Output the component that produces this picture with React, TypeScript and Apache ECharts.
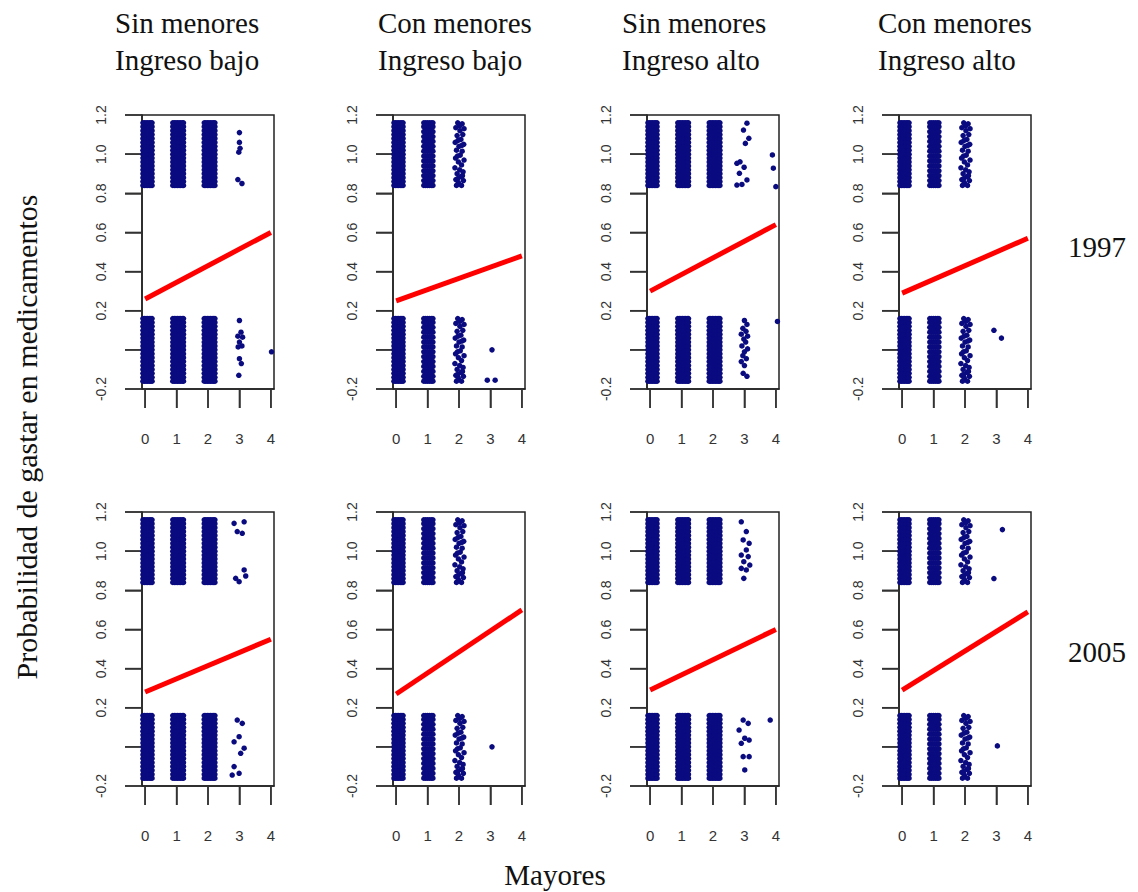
import React, { useEffect, useRef } from 'react';
import * as echarts from 'echarts';

// ---------- text ----------
const columnTitles = [
  ['Sin menores', 'Ingreso bajo'],
  ['Con menores', 'Ingreso bajo'],
  ['Sin menores', 'Ingreso alto'],
  ['Con menores', 'Ingreso alto'],
];
const rowYears = ['1997', '2005'];
const yTitle = 'Probabilidad de gastar en medicamentos';
const xTitle = 'Mayores';

// ---------- ticks ----------
const xTickValues = [0, 1, 2, 3, 4];
const yTickValues = [-0.2, 0, 0.2, 0.4, 0.6, 0.8, 1.0, 1.2];
const yLabelValues = [-0.2, 0.2, 0.4, 0.6, 0.8, 1.0, 1.2];

// ---------- fitted probability lines (value at Mayores = 0 and Mayores = 4) ----------
const fitStart1997 = [0.26, 0.25, 0.3, 0.29];
const fitEnd1997 = [0.6, 0.48, 0.64, 0.57];
const fitStart2005 = [0.28, 0.27, 0.29, 0.29];
const fitEnd2005 = [0.55, 0.7, 0.6, 0.69];

// ---------- jittered observation clusters at Mayores = 0,1,2 ----------
// F = very many observations, M = many, L = fewer ; for outcome 0 and outcome 1
const densityZero1997 = ['FFF', 'FML', 'FFF', 'FML'];
const densityOne1997 = ['FFF', 'FML', 'FFF', 'FML'];
const densityZero2005 = ['FFF', 'FML', 'FFF', 'FML'];
const densityOne2005 = ['FFF', 'FML', 'FFF', 'FML'];

// jitter offsets
const fullDX = [-0.12, -0.07, -0.02, 0.03, 0.08, 0.13, 0.18, 0.22];
const fullDY = [-0.16, -0.14, -0.12, -0.1, -0.08, -0.06, -0.04, -0.02, 0, 0.02, 0.04, 0.06, 0.08, 0.1, 0.12, 0.14, 0.16];
const mediumDX = [-0.12, -0.06, 0.0, 0.06, 0.12, 0.17];
const mediumDY = [-0.16, -0.135, -0.11, -0.085, -0.06, -0.035, -0.01, 0.015, 0.04, 0.065, 0.09, 0.115, 0.14, 0.16];
const lightJitter = [
  [-0.04, 0.16], [0.1, 0.155], [0.16, 0.13], [-0.1, 0.135], [0.03, 0.12], [0.12, 0.1],
  [-0.06, 0.095], [0.06, 0.075], [-0.12, 0.06], [0.15, 0.05], [0.0, 0.04], [-0.08, 0.02],
  [0.1, 0.015], [0.04, -0.005], [-0.11, -0.02], [0.16, -0.03], [-0.02, -0.04], [0.08, -0.055],
  [-0.13, -0.07], [0.02, -0.08], [0.13, -0.09], [-0.06, -0.1], [0.06, -0.115], [-0.1, -0.13],
  [0.14, -0.135], [-0.02, -0.145], [0.08, -0.16], [-0.08, -0.16], [0.02, 0.145], [-0.03, 0.07],
  [0.09, 0.045], [-0.05, -0.01], [0.11, -0.11], [-0.04, -0.125],
];

// ---------- individual observations (mostly Mayores = 3 and 4) ----------
const sparse1997 = [
  [
    [3.0, 1.11], [3.0, 1.06], [3.02, 1.03], [2.98, 1.01], [2.95, 0.87], [3.08, 0.85],
    [3.0, 0.15], [3.05, 0.09], [2.95, 0.07], [3.1, 0.065], [3.0, 0.04], [3.08, 0.02],
    [2.96, 0.015], [3.0, -0.045], [3.06, -0.07], [2.98, -0.13], [4.02, -0.01],
  ],
  [[3.05, 0.0], [2.9, -0.155], [3.15, -0.155]],
  [
    [3.08, 1.158], [2.97, 1.123], [3.14, 1.081], [3.03, 1.055], [2.86, 0.961], [2.76, 0.953],
    [2.99, 0.933], [2.84, 0.902], [3.08, 0.868], [2.76, 0.842], [2.92, 0.845],
    [3.89, 0.996], [3.92, 0.928], [4.0, 0.834],
    [3.0, 0.15], [3.08, 0.13], [2.95, 0.11], [3.05, 0.095], [2.9, 0.08], [3.1, 0.07],
    [2.98, 0.055], [3.04, 0.04], [2.92, 0.02], [3.1, 0.005], [3.0, -0.01], [2.95, -0.03],
    [3.06, -0.045], [2.9, -0.06], [3.0, -0.08], [2.96, -0.12], [3.08, -0.135],
    [4.05, 0.145],
  ],
  [[2.92, 0.1], [3.16, 0.06]],
];
const sparse2005 = [
  [
    [2.83, 1.142], [3.15, 1.15], [2.93, 1.1], [3.09, 1.091], [3.15, 0.904], [2.88, 0.861],
    [2.99, 0.844], [3.2, 0.873],
    [2.93, 0.137], [3.09, 0.12], [2.99, 0.052], [2.83, 0.026], [3.15, -0.007], [3.04, -0.033],
    [2.83, -0.101], [2.99, -0.135], [2.77, -0.144],
  ],
  [[3.05, 0.0]],
  [
    [2.9, 1.15], [3.06, 1.1], [2.96, 1.057], [3.15, 1.04], [3.06, 1.006], [2.9, 0.98],
    [3.12, 0.972], [2.98, 0.946], [3.17, 0.929], [2.9, 0.912], [2.98, 0.861], [3.06, 0.904],
    [2.96, 0.137], [3.12, 0.12], [2.83, 0.086], [3.01, 0.044], [3.15, 0.035], [2.9, 0.018],
    [2.96, -0.05], [3.15, -0.05], [3.01, -0.118],
    [3.82, 0.137],
  ],
  [[3.19, 1.11], [2.92, 0.86], [3.03, 0.005]],
];

function clusterPoints(code: string, center: number, base: number, out: number[][]) {
  if (code === 'F') {
    for (const dx of fullDX) for (const dy of fullDY) out.push([center + dx, base + dy]);
  } else if (code === 'M') {
    for (const dx of mediumDX) for (const dy of mediumDY) out.push([center + dx, base + dy]);
  } else if (code === 'L') {
    for (const [dx, dy] of lightJitter) out.push([center + dx, base + dy]);
  }
}

function panelPoints(zero: string, one: string, sparse: number[][]) {
  const pts: number[][] = [];
  for (let k = 0; k < 3; k++) {
    clusterPoints(zero[k], k, 0, pts);
    clusterPoints(one[k], k, 1, pts);
  }
  for (const p of sparse) pts.push(p);
  return pts;
}

const gridLefts = [142, 393, 647, 899];
const gridTops = [115, 512];
const titleLefts = [115, 378, 622, 878];

export default function App() {
  const ref = useRef<HTMLDivElement>(null);
  useEffect(() => {
    if (!ref.current) return;
    const chart = echarts.init(ref.current, undefined, { renderer: 'svg' });
    const grids: any[] = [];
    const xAxes: any[] = [];
    const yAxes: any[] = [];
    const series: any[] = [];
    const axisFont = '"Liberation Sans", Arial, sans-serif';
    const lineCol = '#222';
    for (let r = 0; r < 2; r++) {
      for (let c = 0; c < 4; c++) {
        const i = r * 4 + c;
        grids.push({
          left: gridLefts[c],
          top: gridTops[r],
          width: 132,
          height: 274,
          show: true,
          borderColor: lineCol,
          borderWidth: 1.5,
          containLabel: false,
          outerBoundsMode: 'none',
        });
        xAxes.push({
          type: 'value',
          gridIndex: i,
          position: 'bottom',
          min: -0.1,
          max: 4.1,
          axisLine: { show: true, onZero: false, lineStyle: { color: lineCol, width: 1.5 } },
          splitLine: { show: false },
          axisTick: { show: true, length: 19, lineStyle: { color: '#333', width: 1.5 }, customValues: xTickValues },
          axisLabel: {
            customValues: xTickValues,
            margin: 42,
            fontSize: 15,
            color: '#333',
            fontFamily: axisFont,
          },
        });
        yAxes.push({
          type: 'value',
          gridIndex: i,
          position: 'left',
          min: -0.2,
          max: 1.2,
          interval: 0.2,
          axisLine: { show: true, onZero: false, lineStyle: { color: lineCol, width: 1.5 } },
          splitLine: { show: false },
          axisTick: { show: true, length: 17, lineStyle: { color: '#333', width: 1.5 } },
          axisLabel: {
            customValues: yLabelValues,
            rotate: 90,
            margin: 34,
            fontSize: 14,
            color: '#333',
            fontFamily: axisFont,
            formatter: (v: number) => v.toFixed(1),
          },
        });
        const zero = r === 0 ? densityZero1997[c] : densityZero2005[c];
        const one = r === 0 ? densityOne1997[c] : densityOne2005[c];
        const sparse = r === 0 ? sparse1997[c] : sparse2005[c];
        series.push({
          type: 'scatter',
          xAxisIndex: i,
          yAxisIndex: i,
          data: panelPoints(zero, one, sparse),
          symbol: 'circle',
          symbolSize: 5.5,
          itemStyle: { color: '#0B0B80', opacity: 1 },
          silent: true,
        });
        const s = r === 0 ? fitStart1997[c] : fitStart2005[c];
        const e = r === 0 ? fitEnd1997[c] : fitEnd2005[c];
        series.push({
          type: 'line',
          xAxisIndex: i,
          yAxisIndex: i,
          data: [[0, s], [4, e]],
          symbol: 'none',
          lineStyle: { color: '#FF0000', width: 5 },
          silent: true,
        });
      }
    }
    const serif = '"Liberation Serif", "Times New Roman", serif';
    const graphics: any[] = [];
    columnTitles.forEach((lines, c) => {
      lines.forEach((t, li) => {
        graphics.push({
          type: 'text',
          x: titleLefts[c],
          y: li === 0 ? 23 : 60,
          style: { text: t, font: `29px ${serif}`, fill: '#111', textAlign: 'left', textVerticalAlign: 'middle' },
        });
      });
    });
    rowYears.forEach((yr, r) => {
      graphics.push({
        type: 'text',
        x: 1068,
        y: r === 0 ? 247 : 652,
        style: { text: yr, font: `29px ${serif}`, fill: '#111', textAlign: 'left', textVerticalAlign: 'middle' },
      });
    });
    graphics.push({
      type: 'text',
      x: 26,
      y: 437,
      rotation: Math.PI / 2,
      style: { text: yTitle, font: `30px ${serif}`, fill: '#111', textAlign: 'center', textVerticalAlign: 'middle' },
    });
    graphics.push({
      type: 'text',
      x: 555,
      y: 875,
      style: { text: xTitle, font: `29px ${serif}`, fill: '#111', textAlign: 'center', textVerticalAlign: 'middle' },
    });
    chart.setOption({
      animation: false,
      grid: grids,
      xAxis: xAxes,
      yAxis: yAxes,
      series,
    });
    // tick marks placed through the axes' own scales
    const tickLines: any[] = [];
    try {
      for (let i = 0; i < 8; i++) {
        const bottom = chart.convertToPixel({ yAxisIndex: i } as any, -0.2) as any as number;
        const left = chart.convertToPixel({ xAxisIndex: i } as any, -0.1) as any as number;
        if (typeof bottom !== 'number' || typeof left !== 'number' || isNaN(bottom) || isNaN(left)) continue;
        xTickValues.forEach((v) => {
          const px = chart.convertToPixel({ xAxisIndex: i } as any, v) as any as number;
          if (typeof px === 'number' && !isNaN(px)) {
            tickLines.push({
              type: 'line',
              silent: true,
              shape: { x1: px, y1: bottom, x2: px, y2: bottom + 19 },
              style: { stroke: '#333', lineWidth: 1.5 },
            });
          }
        });
        yTickValues.forEach((v) => {
          const py = chart.convertToPixel({ yAxisIndex: i } as any, v) as any as number;
          if (typeof py === 'number' && !isNaN(py)) {
            tickLines.push({
              type: 'line',
              silent: true,
              shape: { x1: left - 17, y1: py, x2: left, y2: py },
              style: { stroke: '#333', lineWidth: 1.5 },
            });
          }
        });
      }
    } catch (err) {
      // ignore
    }
    chart.setOption({ graphic: [...graphics, ...tickLines] });
    return () => chart.dispose();
  }, []);
  return (
    <div
      ref={ref}
      style={{ position: 'absolute', left: 0, top: 0, width: 1138, height: 892 }}
    />
  );
}
